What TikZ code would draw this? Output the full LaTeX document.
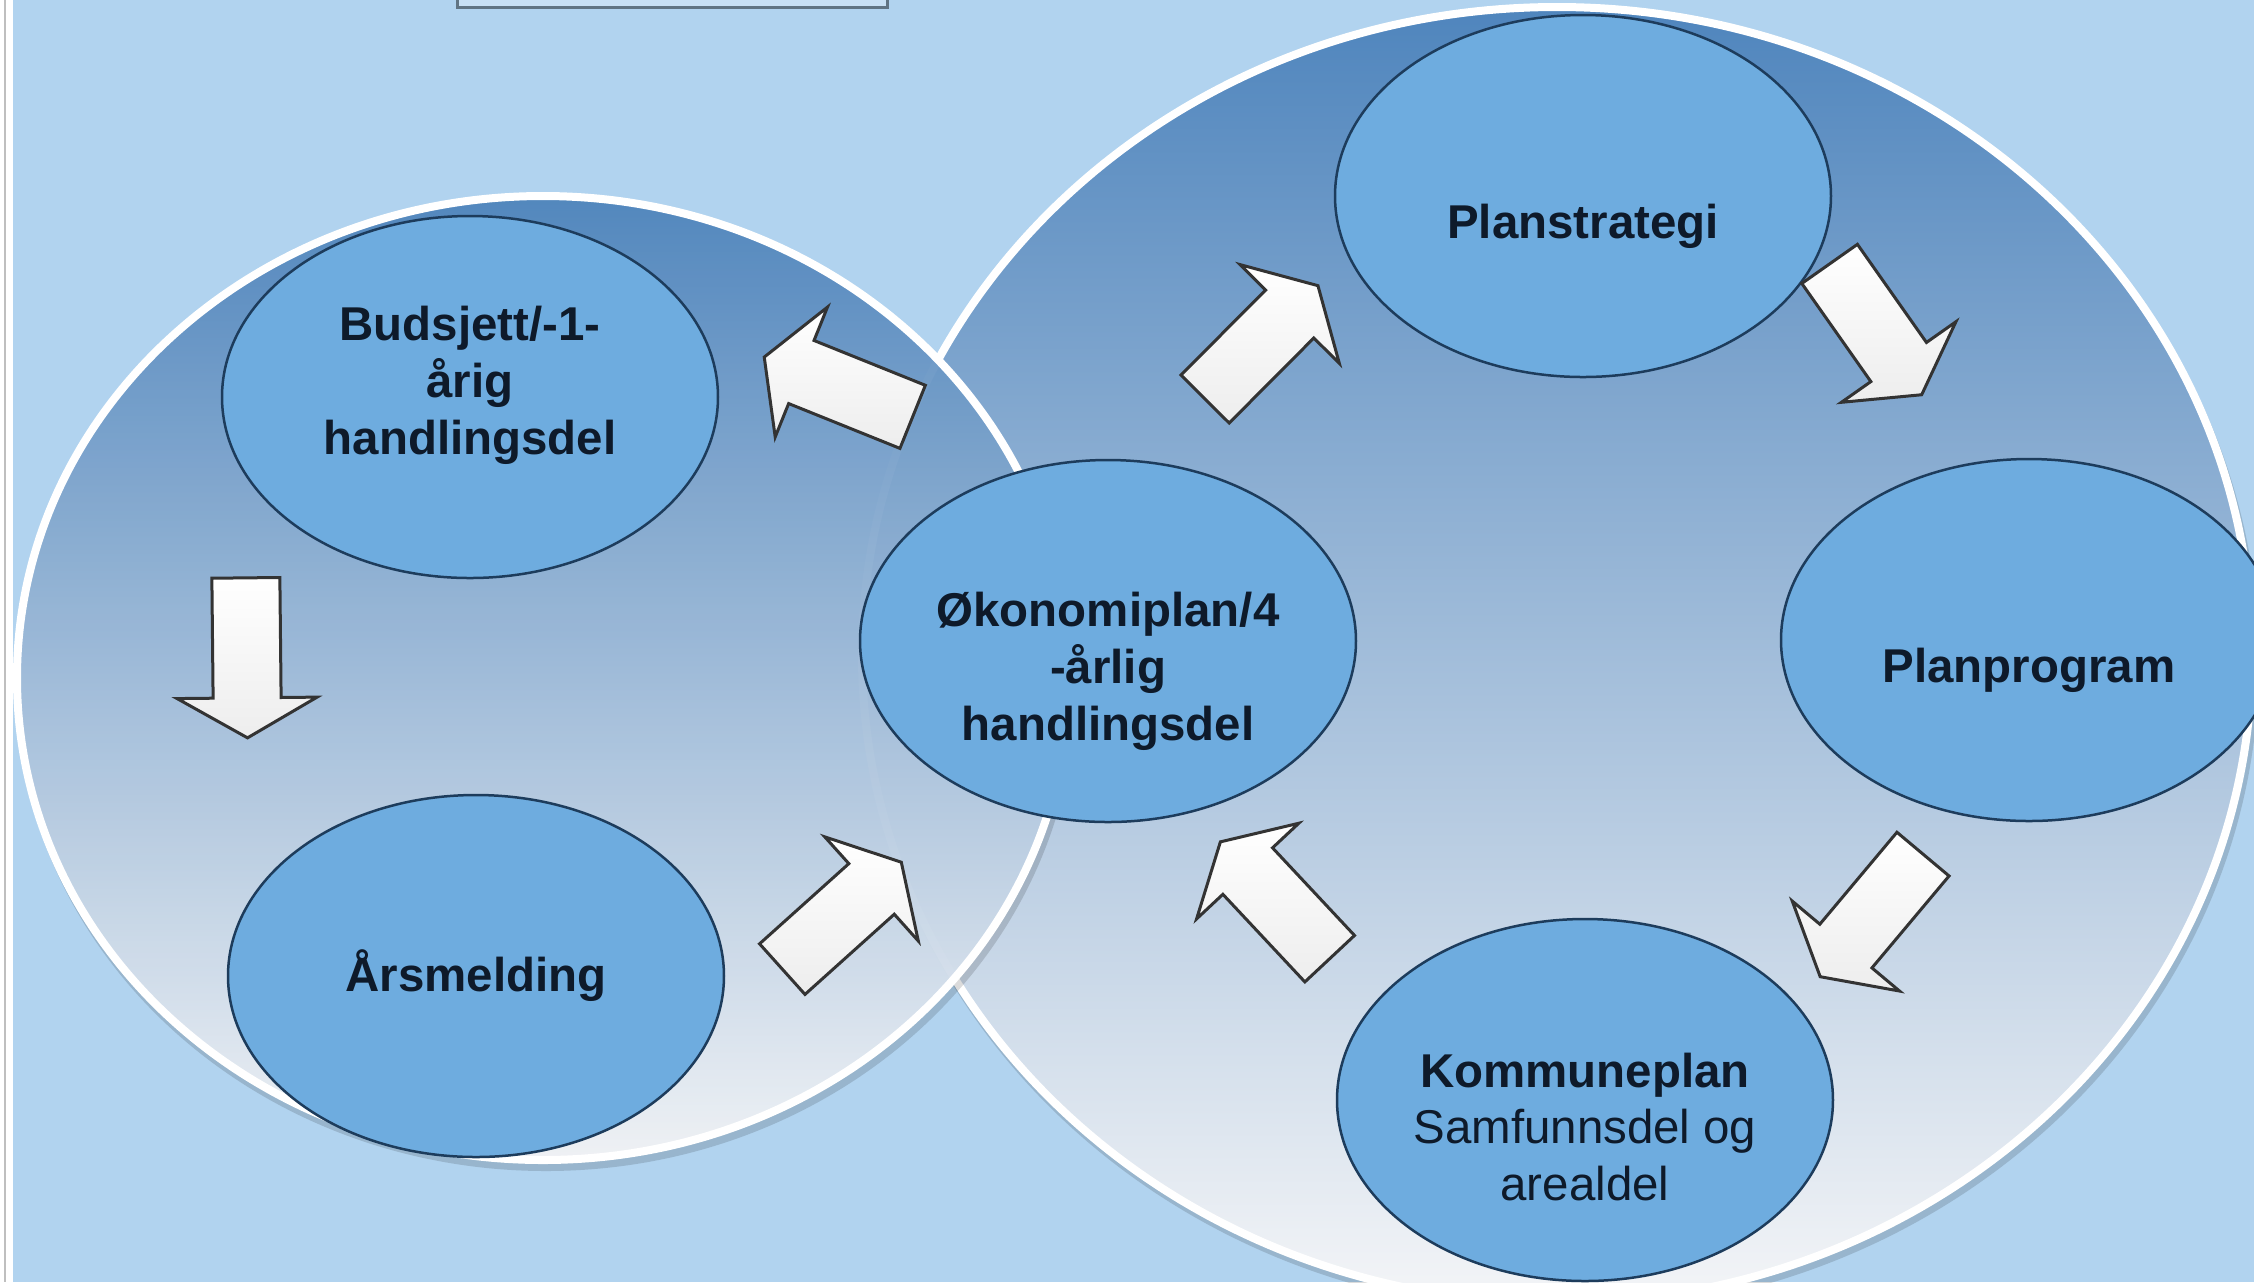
\documentclass[tikz,border=0pt]{standalone}
\usepackage{fontspec}
\setmainfont{Liberation Sans}
\usepackage{xcolor}
\usetikzlibrary{shapes.geometric}
\usetikzlibrary{decorations.markings}
\definecolor{bgblue}{HTML}{B1D3EF}
\definecolor{ringtop}{HTML}{4F85BD}
\definecolor{ringmid}{HTML}{B3C5D7}
\definecolor{ringbot}{HTML}{F4F5F7}
\definecolor{bubblefill}{HTML}{6EACDF}
\definecolor{bubbleline}{HTML}{1D3C5C}
\definecolor{inkdark}{HTML}{0E1A2A}
\tikzstyle{ring} = [top color=ringtop, middle color=ringmid, bottom color=ringbot,
draw=white, line width=0.8mm]
\tikzstyle{ringshadow} = [fill=black, opacity=0.14]
\tikzstyle{bubble} = [ellipse, draw=bubbleline, fill=bubblefill, line width=0.25mm,
minimum width=4.96cm, minimum height=3.62cm, inner sep=0pt]
\tikzstyle{bubbletext} = [font=\fontsize{13.5}{16.2}\selectfont\bfseries, text=inkdark, align=center]
\tikzstyle{flowarrow} = [draw=black!80, line width=0.3mm, top color=white, bottom color=black!7,
line join=miter]
\tikzstyle{topbox} = [draw=black!45!bgblue, fill=bgblue!70!white, line width=0.3mm,
minimum width=4.3cm, minimum height=3.8mm, inner sep=0pt]
\tikzset{
  flow/.style n args={3}{decoration={markings, mark=at position 0.5 with {%
    \path[flowarrow, shift={(#2,#1)}, rotate=#3]
      (-80,-34) -- (40,-34) -- (40,-70) -- (80,0) -- (40,70) -- (40,34) -- (-80,34) -- cycle;}},
    postaction={decorate}}
}
\begin{document}
\begin{tikzpicture}[x=0.1mm, y=-0.1mm]
        \useasboundingbox (0,0) rectangle (2254,1282);
        \clip (0,0) rectangle (2254,1282);
        \fill[bgblue] (0,0) rectangle (2254,1282);
        \fill[white] (0,0) rectangle (13,1282);
        \draw[black!25, line width=0.2mm] (5,0) -- (5,1282);
        \node[topbox] (caption) at (672,-12) {};
        % the two rings
        \path[ringshadow] (1560,662) ellipse [x radius=699, y radius=651];
        \path[ring] (1557,655) ellipse [x radius=695, y radius=648];
        \path[ringshadow] (546,685) ellipse [x radius=530, y radius=486];
        \path[ring, fill opacity=0.95] (543,678) ellipse [x radius=526, y radius=482];
        \node[bubble, label={[bubbletext, yshift=1.2mm]center:{Budsjett/-1-\\årig\\handlingsdel}}] (budsjett) at (470,397) {};
        \node[bubble, label={[bubbletext]center:{Årsmelding}}] (arsmelding) at (476,976) {};
        \node[bubble, label={[bubbletext, yshift=-3mm]center:{Økonomiplan/4\\-årlig\\handlingsdel}}] (okonomi) at (1108,641) {};
        \node[bubble, label={[bubbletext, yshift=-3mm]center:{Planstrategi}}] (planstrategi) at (1583,196) {};
        \node[bubble, label={[bubbletext, yshift=-3mm]center:{Planprogram}}] (planprogram) at (2029,640) {};
        \node[bubble, label={[bubbletext, yshift=-2.7mm]center:{Kommuneplan\\\mdseries Samfunnsdel og\\\mdseries arealdel}}] (kommuneplan) at (1585,1100) {};
        % block arrows round the two cycles
        \path[flow={141}{1}{-1}] (okonomi) -- (budsjett);
        \path[flow={226}{-31}{0}] (budsjett) -- (arsmelding);
        \path[flow={118}{-6}{14}] (arsmelding) -- (okonomi);
        \path[flow={-113}{-9}{2}] (okonomi) -- (planstrategi);
        \path[flow={-112}{-13}{-10}] (planstrategi) -- (planprogram);
        \path[flow={-78}{-12}{4}] (planprogram) -- (kommuneplan);
        \path[flow={-71}{31}{-3}] (kommuneplan) -- (okonomi);
    \end{tikzpicture}
\end{document}
